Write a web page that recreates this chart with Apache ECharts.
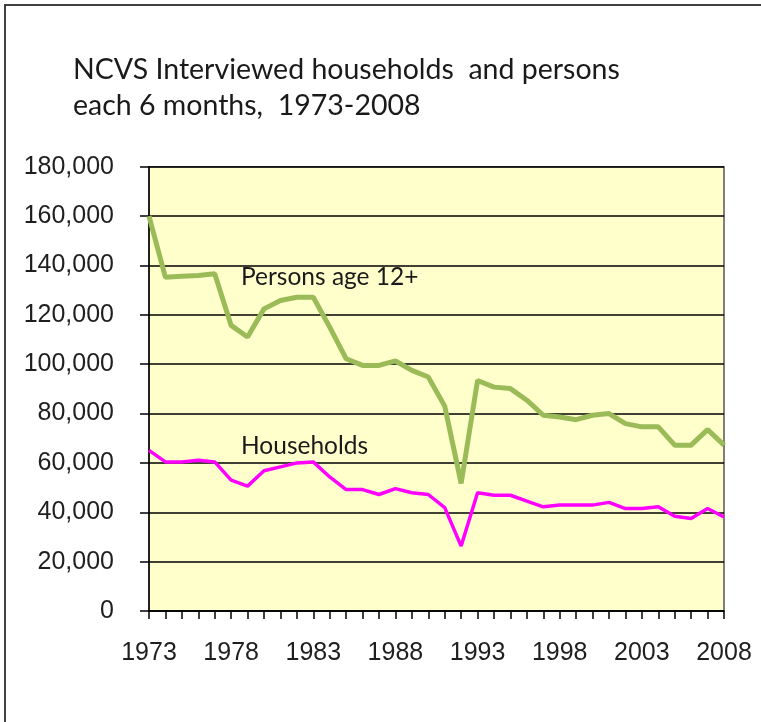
<!DOCTYPE html>
<html>
<head>
<meta charset="utf-8">
<script src="https://cdn.jsdelivr.net/npm/echarts@6/dist/echarts.min.js"></script>
<style>
html,body{margin:0;padding:0;background:#fff;}
#chart{width:761px;height:722px;}
</style>
</head>
<body>
<div id="chart"></div>
<script>
const years = ['1973','1974','1975','1976','1977','1978','1979','1980','1981','1982','1983','1984','1985','1986','1987','1988','1989','1990','1991','1992','1993','1994','1995','1996','1997','1998','1999','2000','2001','2002','2003','2004','2005','2006','2007','2008'];
const persons = [160000,135200,135600,135900,136600,115700,111000,122400,125800,127100,127100,115000,102200,99500,99500,101300,97500,94800,83000,51700,93400,90700,90100,85400,79300,78600,77500,79300,80000,75900,74600,74600,67200,67200,73500,67200];
const households = [65100,60400,60400,61100,60400,53000,50600,56800,58400,60000,60400,54300,49200,49200,47200,49600,47900,47200,41900,26300,47900,46900,46900,44500,42200,42900,42900,42900,44000,41500,41500,42200,38400,37500,41500,38100];
const yTicks = {min:0, max:180000, interval:20000};
const titleText = 'NCVS Interviewed households  and persons\neach 6 months,  1973-2008';

const chart = echarts.init(document.getElementById('chart'));
chart.setOption({
  animation:false,
  backgroundColor:'#ffffff',
  title:{
    text:titleText,
    left:73, top:52, padding:0,
    textStyle:{fontFamily:'Lato', fontSize:28.5, fontWeight:'normal', color:'#1a1a1a', lineHeight:36}
  },
  graphic:[
    {type:'rect', shape:{x:5,y:5,width:900,height:900}, style:{fill:'none', stroke:'#404040', lineWidth:2}, silent:true},
    {type:'text', left:241, top:265, style:{text:'Persons age 12+', font:'24.5px Lato', fill:'#1a1a1a'}},
    {type:'text', left:241, top:434, style:{text:'Households', font:'24.5px Lato', fill:'#1a1a1a'}}
  ],
  grid:{left:149, right:37, top:166.7, bottom:111, show:true, backgroundColor:'#FFFFCC', borderColor:'#555', borderWidth:1.5},
  xAxis:{
    type:'category', data:years, boundaryGap:false,
    axisLine:{lineStyle:{color:'#000', width:1.5}},
    axisTick:{show:true, interval:0, length:8, lineStyle:{color:'#000', width:1.5}},
    axisLabel:{interval:4, margin:30, fontFamily:'Liberation Sans', fontSize:25, color:'#1f1f1f'},
    splitLine:{show:false}
  },
  yAxis:{
    type:'value', min:yTicks.min, max:yTicks.max, interval:yTicks.interval,
    axisLine:{show:true, lineStyle:{color:'#000', width:1.5}},
    axisTick:{show:true, length:9, lineStyle:{color:'#000', width:1.5}},
    axisLabel:{margin:35, fontFamily:'Liberation Sans', fontSize:25, color:'#1f1f1f',
      formatter:v=>v.toLocaleString('en-US')},
    splitLine:{show:true, lineStyle:{color:'#000', width:1.5}}
  },
  series:[
    {name:'Persons age 12+', type:'line', data:persons, showSymbol:false, lineStyle:{color:'#9BBB59', width:5}, itemStyle:{color:'#9BBB59'}},
    {name:'Households', type:'line', data:households, showSymbol:false, lineStyle:{color:'#FF00FF', width:3.5}, itemStyle:{color:'#FF00FF'}}
  ]
});
</script>
</body>
</html>
